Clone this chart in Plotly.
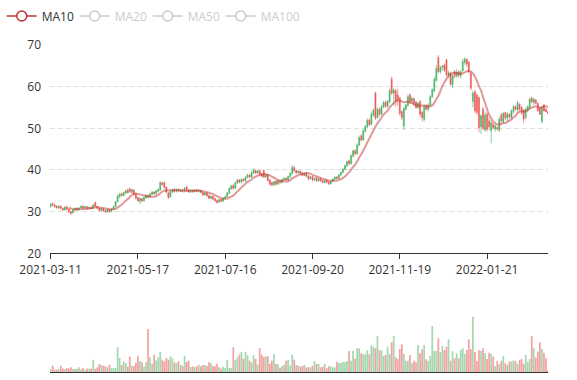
import plotly.graph_objects as go
import pandas as pd

tick_labels = ["2021-03-11", "2021-05-17", "2021-07-16", "2021-09-20", "2021-11-19", "2022-01-21"]
tick_index = [0, 43, 86, 129, 172, 215]

opens = [
    31.2, 31.9, 31.6, 31.3, 30.9, 31.3, 30.8, 30.4, 31.2, 30.6,
    30.0, 29.7, 30.4, 30.8, 30.5, 30.9, 31.3, 30.9, 31.2, 30.8,
    31.0, 30.7, 32.2, 31.3, 30.8, 30.3, 30.7, 30.3, 29.9, 30.5,
    30.1, 30.6, 31.2, 32.4, 33.6, 34.3, 33.9, 34.5, 35.2, 35.5,
    34.6, 35.2, 34.2, 33.4, 32.5, 33.1, 32.6, 33.3, 33.9, 33.5,
    34.2, 34.7, 34.3, 34.9, 35.2, 36.9, 37.0, 35.9, 34.5, 33.6,
    34.7, 35.3, 34.8, 35.3, 34.9, 35.3, 35.0, 35.9, 35.2, 34.7,
    35.1, 34.8, 35.2, 34.9, 35.1, 34.6, 34.0, 34.5, 33.9, 33.2,
    33.7, 33.1, 32.7, 32.3, 32.9, 32.5, 33.2, 33.6, 34.4, 35.5,
    36.3, 35.6, 36.9, 37.6, 37.1, 37.8, 37.4, 38.2, 38.8, 38.3,
    39.3, 39.9, 39.3, 39.8, 39.1, 39.9, 38.3, 38.8, 37.6, 37.0,
    36.4, 37.3, 36.6, 37.4, 37.0, 37.6, 38.0, 37.6, 38.4, 39.1,
    40.6, 39.9, 39.3, 39.7, 39.3, 38.7, 39.3, 38.6, 37.9, 38.4,
    37.6, 38.1, 37.4, 37.9, 37.5, 37.0, 37.5, 37.1, 36.7, 37.3,
    37.8, 38.3, 38.0, 38.8, 39.4, 40.1, 41.0, 42.2, 41.5, 43.3,
    44.6, 43.9, 46.0, 48.2, 47.2, 49.3, 50.3, 52.0, 50.9, 53.2,
    58.5, 52.6, 54.6, 53.4, 55.1, 56.3, 55.3, 56.4, 61.8, 58.4,
    59.0, 58.0, 57.3, 54.0, 50.5, 54.6, 55.5, 58.0, 56.4, 57.1,
    56.3, 55.0, 56.4, 53.8, 52.2, 55.4, 54.6, 55.6, 57.6, 59.0,
    61.5, 67.0, 63.6, 64.6, 65.2, 66.4, 62.7, 63.2, 60.4, 63.6,
    62.5, 63.6, 62.6, 63.8, 65.8, 66.6, 65.9, 63.2, 56.5, 58.8,
    58.0, 57.4, 50.4, 54.6, 49.6, 53.4, 51.8, 49.4, 51.0, 49.8,
    50.2, 49.5, 53.3, 51.6, 53.8, 52.4, 53.4, 52.6, 54.0, 55.2,
    54.4, 55.8, 55.0, 54.4, 52.6, 54.4, 55.0, 57.2, 56.2, 56.8,
    56.0, 54.8, 51.6, 55.6, 54.6, 54.0,
]
closes = [
    31.8, 31.6, 31.2, 30.9, 31.3, 30.8, 30.4, 31.1, 30.6, 30.0,
    29.6, 30.4, 30.8, 30.5, 30.9, 31.3, 30.9, 31.2, 30.8, 31.0,
    30.7, 31.6, 31.3, 30.8, 30.3, 30.7, 30.2, 29.9, 30.5, 30.0,
    30.6, 31.2, 32.4, 33.8, 34.2, 33.9, 34.6, 35.0, 34.6, 34.8,
    35.3, 34.2, 33.2, 32.6, 33.2, 32.6, 33.4, 33.9, 33.5, 34.3,
    34.7, 34.3, 35.0, 35.3, 37.0, 36.5, 35.8, 34.7, 33.4, 34.8,
    35.2, 34.8, 35.3, 34.9, 35.2, 35.0, 35.6, 35.1, 34.7, 35.1,
    34.8, 35.2, 34.9, 35.1, 34.6, 34.0, 34.5, 33.8, 33.2, 33.7,
    33.0, 32.6, 32.2, 32.9, 32.5, 33.2, 33.6, 34.5, 35.6, 36.2,
    35.6, 37.0, 37.6, 37.1, 37.8, 37.4, 38.3, 38.8, 38.3, 39.4,
    40.0, 39.3, 39.8, 39.0, 38.5, 38.3, 38.8, 37.5, 36.6, 36.4,
    37.2, 36.6, 37.4, 37.0, 37.7, 38.0, 37.6, 38.4, 39.2, 40.6,
    39.8, 39.3, 39.7, 39.2, 38.7, 39.2, 38.5, 37.9, 38.4, 37.6,
    38.0, 37.4, 37.9, 37.4, 37.0, 37.5, 37.1, 36.7, 37.3, 37.8,
    38.3, 38.0, 38.8, 39.4, 40.2, 41.0, 42.0, 41.5, 43.4, 44.6,
    43.9, 46.0, 47.8, 47.2, 49.4, 50.4, 51.9, 50.9, 53.3, 54.4,
    52.5, 54.6, 53.4, 55.2, 56.2, 55.3, 56.5, 59.0, 58.5, 59.2,
    56.5, 56.8, 53.6, 52.6, 54.8, 55.6, 57.6, 56.4, 57.2, 55.9,
    55.0, 56.0, 53.4, 52.6, 55.2, 54.6, 55.6, 57.6, 59.3, 61.8,
    64.4, 63.6, 64.6, 65.0, 64.0, 62.8, 63.4, 60.6, 62.6, 62.5,
    63.5, 62.7, 63.6, 66.0, 66.6, 65.4, 63.6, 59.6, 58.4, 54.2,
    53.8, 50.2, 53.0, 50.0, 53.2, 49.8, 50.4, 51.4, 50.2, 50.6,
    49.9, 52.2, 51.8, 53.6, 52.6, 53.4, 52.8, 54.2, 55.2, 54.6,
    56.2, 54.6, 53.8, 52.2, 54.6, 55.2, 57.0, 56.4, 57.0, 56.0,
    54.2, 53.4, 55.0, 54.2, 54.0, 53.6,
]
lows = [
    31.0, 31.3, 31.0, 30.7, 30.7, 30.5, 30.2, 30.3, 30.4, 29.6,
    29.2, 29.6, 30.2, 30.3, 30.4, 30.8, 30.7, 30.8, 30.6, 30.6,
    30.5, 30.6, 31.1, 30.6, 30.0, 30.1, 29.9, 29.6, 29.8, 29.7,
    29.9, 30.4, 31.0, 32.2, 33.2, 33.6, 33.7, 34.2, 34.3, 34.5,
    34.4, 33.9, 32.9, 32.3, 31.8, 32.2, 32.4, 33.1, 33.2, 33.3,
    34.0, 34.0, 34.1, 34.6, 35.0, 36.2, 35.5, 34.3, 33.0, 33.3,
    34.5, 34.6, 34.6, 34.6, 34.7, 34.8, 34.8, 34.9, 34.5, 34.5,
    34.5, 34.6, 34.7, 34.6, 34.4, 33.8, 33.9, 33.5, 33.0, 33.0,
    32.7, 32.3, 31.9, 32.1, 32.3, 32.4, 33.0, 33.4, 34.2, 35.2,
    35.3, 35.4, 36.6, 36.8, 36.9, 37.1, 37.2, 38.0, 38.0, 38.1,
    39.0, 39.0, 39.1, 38.6, 38.2, 38.0, 38.1, 37.2, 36.2, 36.0,
    36.2, 36.2, 36.4, 36.7, 36.8, 37.3, 37.4, 37.4, 38.1, 38.9,
    39.5, 39.0, 39.1, 38.9, 38.5, 38.5, 38.2, 37.5, 37.7, 37.2,
    37.4, 37.1, 37.2, 37.1, 36.8, 36.8, 36.8, 36.4, 36.5, 37.1,
    37.6, 37.7, 37.8, 38.6, 39.2, 39.9, 40.7, 41.1, 41.3, 43.0,
    43.5, 43.6, 45.7, 46.9, 47.0, 49.0, 50.0, 50.5, 50.7, 52.8,
    52.0, 52.3, 52.8, 53.1, 54.8, 54.9, 55.0, 56.0, 58.0, 55.5,
    55.2, 55.5, 53.0, 52.0, 49.6, 54.2, 55.2, 55.9, 56.0, 55.5,
    54.6, 54.6, 52.8, 51.6, 51.6, 54.2, 54.0, 55.4, 57.2, 58.6,
    61.2, 63.2, 63.0, 63.8, 63.5, 62.4, 62.0, 60.2, 59.6, 62.0,
    62.2, 62.2, 62.0, 63.6, 65.2, 64.8, 63.2, 59.2, 55.0, 53.6,
    53.2, 49.0, 48.6, 49.6, 49.2, 49.2, 49.6, 46.4, 49.8, 49.2,
    49.4, 49.2, 51.2, 51.2, 52.0, 51.6, 52.2, 52.2, 53.4, 54.2,
    54.0, 54.0, 53.2, 51.2, 52.2, 53.8, 54.6, 56.0, 55.6, 55.8,
    54.0, 53.2, 51.2, 54.0, 53.8, 53.4,
]
highs = [
    32.0, 32.3, 31.8, 31.5, 31.5, 31.5, 31.0, 31.3, 31.4, 30.8,
    30.2, 30.6, 31.0, 31.0, 31.1, 31.5, 31.5, 31.4, 31.3, 31.2,
    31.2, 31.8, 32.4, 31.4, 30.9, 30.9, 30.8, 30.5, 30.7, 30.6,
    30.8, 31.4, 32.6, 34.1, 34.5, 34.6, 34.8, 35.3, 35.6, 35.8,
    35.5, 35.4, 34.4, 33.6, 33.4, 33.3, 33.6, 34.1, 34.1, 34.5,
    35.0, 34.9, 35.2, 35.5, 37.3, 37.2, 37.2, 36.0, 34.7, 35.0,
    35.4, 35.5, 35.5, 35.4, 35.4, 35.5, 35.9, 36.2, 35.4, 35.3,
    35.3, 35.3, 35.4, 35.3, 35.2, 34.8, 34.7, 34.6, 34.1, 33.9,
    33.8, 33.3, 32.9, 33.1, 33.1, 33.4, 33.8, 34.7, 35.8, 36.4,
    36.5, 37.2, 37.9, 37.8, 38.0, 38.0, 38.5, 39.1, 39.0, 39.7,
    40.4, 40.1, 40.0, 40.0, 39.3, 40.1, 39.0, 39.0, 37.8, 37.2,
    37.4, 37.6, 37.6, 37.6, 37.9, 38.2, 38.2, 38.7, 39.4, 41.2,
    41.0, 40.1, 39.9, 39.9, 39.5, 39.4, 39.5, 38.8, 38.6, 38.6,
    38.2, 38.3, 38.1, 38.1, 37.7, 37.7, 37.7, 37.3, 37.5, 38.0,
    38.5, 38.5, 39.1, 39.7, 40.5, 41.3, 42.3, 42.5, 43.8, 45.0,
    45.0, 46.4, 48.3, 48.6, 49.9, 50.8, 52.4, 52.3, 54.0, 54.8,
    58.8, 55.0, 55.0, 55.6, 56.6, 56.6, 56.8, 59.6, 62.4, 59.6,
    59.4, 59.5, 57.6, 54.4, 55.2, 55.9, 58.2, 58.4, 57.6, 57.3,
    56.6, 56.3, 56.8, 54.2, 55.6, 55.8, 56.0, 58.0, 59.6, 62.4,
    65.2, 67.6, 65.0, 65.2, 65.6, 66.8, 63.8, 63.6, 63.0, 64.0,
    64.2, 63.9, 64.0, 66.8, 67.1, 66.8, 66.2, 63.6, 59.0, 59.2,
    58.4, 57.6, 53.4, 55.2, 54.0, 53.8, 52.6, 52.0, 51.3, 51.0,
    50.4, 52.8, 53.6, 54.0, 54.0, 53.8, 53.6, 54.6, 55.6, 55.5,
    56.6, 56.0, 55.3, 54.6, 55.0, 55.6, 57.4, 57.6, 57.4, 57.0,
    56.2, 55.0, 55.2, 55.8, 54.8, 54.2,
]
volumes = [
    3, 6.3, 2.3, 2.3, 3, 6.3, 3.5, 3, 4, 3.5,
    4.7, 3, 3, 3, 4.7, 2.5, 4, 2, 3.3, 3.3,
    3.3, 12.3, 3.3, 4.7, 8, 7, 6.3, 5.7, 4.7, 7.3,
    3.7, 4, 4, 24.7, 14, 7, 10.7, 9, 5.3, 15.3,
    6.3, 6, 9.3, 16.3, 11, 9.7, 5.3, 9.7, 43, 14.7,
    8.3, 17.3, 11.7, 14.7, 20, 12.3, 10.7, 14, 12.3, 15.7,
    13.7, 9.7, 9, 11, 7.3, 6.3, 16.3, 10, 11.3, 5,
    5.7, 5, 5.7, 7.3, 5.7, 7, 7, 6.3, 9.7, 9,
    6, 5.7, 8.3, 4.7, 3.3, 5, 4, 12.3, 4, 4,
    24.7, 11.7, 14.7, 17.3, 20, 13.3, 20.3, 16.7, 11.3, 9.7,
    17, 13, 7.3, 24, 17.3, 15, 15.7, 15.7, 8.3, 11.3,
    17.7, 8, 8, 4.3, 6.3, 7.3, 11.3, 12, 6.3, 17.3,
    12.3, 6.7, 6.7, 5.3, 6, 7, 4.7, 4.7, 4.7, 6,
    11, 8, 8, 4.7, 5.3, 8, 3.7, 5.7, 5.7, 4.7,
    4.7, 10, 9, 9, 10, 10, 11, 21, 11.3, 21,
    13.3, 23.7, 23.7, 18.7, 17.7, 17.7, 21.7, 17.7, 26.7, 25,
    23.7, 36, 21.7, 21.7, 16.3, 17, 25.3, 18, 29.7, 36,
    14.7, 13, 23, 27.7, 18, 11.3, 11.3, 17, 8.7, 11.3,
    9.7, 27, 18.7, 22.7, 27, 12.7, 11, 16, 46, 21,
    21, 33.7, 20, 26, 22, 25.3, 32.7, 11.3, 21, 13.7,
    18.7, 13.7, 22, 23.7, 18, 22, 32.7, 22.7, 55.3, 20,
    11, 21.7, 21, 23.7, 18.7, 13, 19.3, 18, 15.3, 6,
    11, 8, 11.3, 16, 8.7, 7, 10.3, 10.3, 11.7, 11,
    8, 12, 13, 8, 17, 10.3, 13, 36, 23.7, 14.3,
    20.3, 29.7, 23, 19.3, 13.7, 2,
]

UP = "#47b262"
DOWN = "#eb5454"
UP_VOL = "rgba(71,178,98,0.5)"
DOWN_VOL = "rgba(235,84,84,0.55)"
MA_COLOR = "#c23531"
FONT = "Open Sans"

n = len(closes)
x = list(range(n))
close_s = pd.Series(closes)
ma = {p: close_s.rolling(p).mean() for p in (10, 20, 50, 100)}
vol_colors = [UP_VOL if c >= o else DOWN_VOL for o, c in zip(opens, closes)]

fig = go.Figure()

fig.add_trace(go.Candlestick(
    x=x, open=opens, high=highs, low=lows, close=closes,
    increasing=dict(line=dict(color=UP, width=0.6), fillcolor=UP),
    decreasing=dict(line=dict(color=DOWN, width=0.6), fillcolor=DOWN),
    whiskerwidth=0, showlegend=False, xaxis="x", yaxis="y",
))

fig.add_trace(go.Scatter(
    x=x, y=ma[10], mode="lines", line=dict(color="rgba(194,53,49,0.5)", width=2, shape="spline", smoothing=0.6),
    showlegend=False, legendgroup="ma10", hoverinfo="skip", xaxis="x", yaxis="y",
))

legend_marker = dict(symbol="circle", size=10, color="white")
fig.add_trace(go.Scatter(
    x=[None], y=[None], mode="lines+markers", name="MA10", legendgroup="ma10",
    line=dict(color=MA_COLOR, width=1.5), marker=dict(legend_marker, line=dict(color=MA_COLOR, width=1.5)),
    xaxis="x", yaxis="y",
))
for p in (20, 50, 100):
    fig.add_trace(go.Scatter(
        x=x, y=ma[p], mode="lines+markers", visible="legendonly",
        name=f"<span style='color:#999'>MA{p}</span>",
        line=dict(color="#999999", width=1.5),
        marker=dict(legend_marker, line=dict(color="#999999", width=1.5)),
        xaxis="x", yaxis="y",
    ))
# empty spacer entry so the last legend label is not clipped
fig.add_trace(go.Scatter(
    x=[None], y=[None], mode="lines", name=" ", line=dict(width=0, color="rgba(0,0,0,0)"),
    hoverinfo="skip", xaxis="x", yaxis="y",
))

fig.add_trace(go.Bar(
    x=x, y=volumes, marker=dict(color=vol_colors, line=dict(width=0)),
    showlegend=False, xaxis="x2", yaxis="y2",
))

W, H = 577, 380
ml, mr, mt, mb = 50, 29, 45, 8
plot_w = W - ml - mr
plot_h = H - mt - mb
main_bottom = (H - mb - 253.3) / plot_h
vol_top = 73 / plot_h

fig.update_layout(
    width=W, height=H,
    margin=dict(l=ml, r=mr, t=mt, b=mb, autoexpand=False),
    paper_bgcolor="white", plot_bgcolor="white",
    font=dict(family=FONT, size=12, color="#333"),
    bargap=0.15,
    showlegend=True,
    legend=dict(
        orientation="h", xref="container", yref="container",
        x=0.003, y=0.996, xanchor="left", yanchor="top",
        font=dict(family=FONT, size=12, color="#333"),
        itemwidth=30, entrywidth=28, entrywidthmode="pixels",
        bgcolor="rgba(0,0,0,0)",
    ),
    xaxis=dict(
        domain=[0, 1], range=[-0.3, n - 1], anchor="y",
        tickmode="array", tickvals=tick_index, ticktext=tick_labels,
        showline=True, linecolor="#333", linewidth=1,
        ticks="outside", ticklen=5, tickcolor="#333",
        showgrid=False, zeroline=False,
        tickfont=dict(family=FONT, size=12, color="#333"),
        rangeslider=dict(visible=False),
    ),
    yaxis=dict(
        domain=[main_bottom, 1], range=[20, 70], dtick=10, anchor="x",
        showline=False, zeroline=False,
        showgrid=True, gridcolor="#e0e0e0", griddash="5px,3px", gridwidth=1,
        ticks="", ticklabelstandoff=8,
        tickfont=dict(family=FONT, size=12, color="#333"),
    ),
    xaxis2=dict(
        domain=[0, 1], range=[-0.3, n - 1], anchor="y2", matches="x",
        showline=True, linecolor="#333", linewidth=1,
        showticklabels=False, ticks="", showgrid=False, zeroline=False,
    ),
    yaxis2=dict(
        domain=[0, vol_top], range=[0, 73], anchor="x2",
        showline=False, showticklabels=False, showgrid=False, zeroline=False, ticks="",
    ),
)

fig.write_html("out.html", config={"displayModeBar": False},
               post_script="document.body.style.margin='0';")
